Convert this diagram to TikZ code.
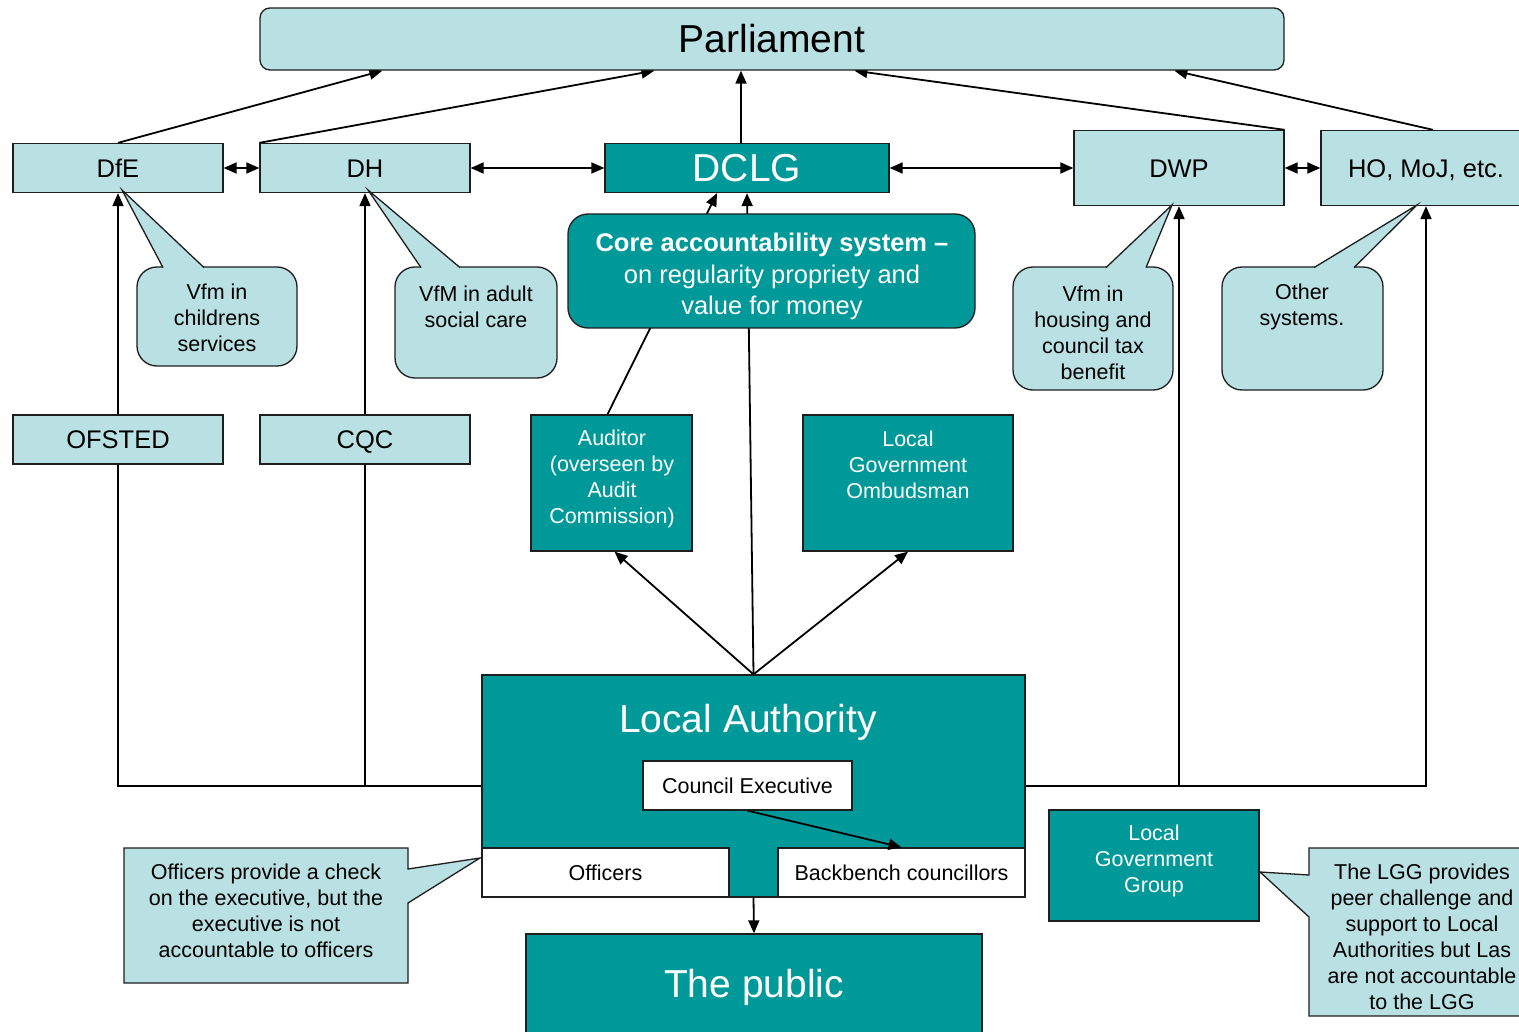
\documentclass[tikz,border=0pt]{standalone}
\usepackage{fontspec}
\setmainfont{Liberation Sans}
\usetikzlibrary{arrows.meta,calc,backgrounds}
\definecolor{lblue}{RGB}{185,224,227}
\definecolor{tealx}{RGB}{0,153,153}
\definecolor{edgec}{RGB}{30,30,30}
\tikzset{
 box/.style={draw=edgec, line width=1.3pt, inner sep=0pt, align=center},
 lbox/.style={box, fill=lblue, text=black},
 tbox/.style={box, fill=tealx, text=white},
 wbox/.style={box, fill=white, text=black},
 big/.style={font=\fontsize{39}{47}\selectfont, text height=27.9pt, text depth=0pt},
 mid/.style={font=\fontsize{25.5}{31.5}\selectfont, text height=18.3pt, text depth=0pt},
 sml/.style={font=\fontsize{21.5}{26}\selectfont, text height=15.4pt, text depth=0pt},
 midm/.style={font=\fontsize{25.5}{31.5}\selectfont},
 smlm/.style={font=\fontsize{21.5}{26}\selectfont},
 txt/.style={inner sep=0pt, align=center},
 conn/.style={draw=black, line width=1.8pt},
 arr/.style={conn, -{Triangle[length=13pt,width=11pt]}},
 darr/.style={conn, {Triangle[length=13pt,width=11pt]}-{Triangle[length=13pt,width=11pt]}},
 callout/.style={draw=edgec, line width=1.3pt, fill=lblue},
 cfill/.style={fill=lblue},
 cline/.style={draw=edgec, line width=1.3pt},
}
\begin{document}
\begin{tikzpicture}[x=1pt,y=-1pt]
\useasboundingbox (0,0) rectangle (1519,1032);
\clip (0,0) rectangle (1519,1032);

% top row
\node[lbox, big, minimum width=1024pt, minimum height=62pt, rounded corners=10pt] (parl) at (772,39) {Parliament};
\node[lbox, mid, minimum width=210pt, minimum height=49pt] (dfe) at (118,168) {DfE};
\node[lbox, mid, minimum width=210pt, minimum height=49pt] (dh) at (365,168) {DH};
\node[tbox, big, minimum width=284pt, minimum height=49pt] (dclg) at (747,168) {DCLG};
\node[lbox, mid, minimum width=210pt, minimum height=75pt] (dwp) at (1179,168) {DWP};
\node[lbox, mid, minimum width=210pt, minimum height=75pt] (ho) at (1426,168) {HO, MoJ, etc.};

% core box
\node[tbox, minimum width=407pt, minimum height=114pt, rounded corners=20pt] (core) at (771.5,271) {};
\node[txt, midm, text=white] (coret) at (772,276.5)
 {\textbf{Core accountability system –}\\on regularity propriety and\\value for money};

% callouts with pointers
\draw[callout, rounded corners=20pt] (137,267) rectangle (297,366);
\fill[cfill] (163,267) -- (122,190) -- (204,267) -- (204,270) -- (163,270) -- cycle;
\draw[cline] (163,267.6) -- (122,190) -- (204,267.6);
\node[txt, smlm] (c1) at (217,318) {Vfm in\\childrens\\services};

\draw[callout, rounded corners=20pt] (395,267) rectangle (557,378);
\fill[cfill] (421,267) -- (368,190) -- (460,267) -- (460,270) -- (421,270) -- cycle;
\draw[cline] (421,267.6) -- (368,190) -- (460,267.6);
\node[txt, smlm] (c2) at (476,307) {VfM in adult\\social care};

\draw[callout, rounded corners=20pt] (1013,267) rectangle (1173,390);
\fill[cfill] (1106,267) -- (1172,205) -- (1146,267) -- (1146,270) -- (1106,270) -- cycle;
\draw[cline] (1106,267.6) -- (1172,205) -- (1146,267.6);
\node[txt, smlm] (c3) at (1093,333) {Vfm in\\housing and\\council tax\\benefit};

\draw[callout, rounded corners=20pt] (1222,267) rectangle (1383,390);
\fill[cfill] (1314,267) -- (1417,205) -- (1354,267) -- (1354,270) -- (1314,270) -- cycle;
\draw[cline] (1314,267.6) -- (1417,205) -- (1354,267.6);
\node[txt, smlm] (c4) at (1302,307) {Other\\systems.};

% regulators
\node[lbox, mid, minimum width=210pt, minimum height=49pt] (ofsted) at (118,439.5) {OFSTED};
\node[lbox, mid, minimum width=210pt, minimum height=49pt] (cqc) at (365,439.5) {CQC};
\node[tbox, minimum width=161pt, minimum height=136pt] (aud) at (611.5,483) {};
\node[txt, smlm, text=white] (audt) at (612,479) {Auditor\\(overseen by\\Audit\\Commission)};
\node[tbox, minimum width=210pt, minimum height=136pt] (lgo) at (908,483) {};
\node[txt, smlm, text=white] (lgot) at (908,465) {Local\\Government\\Ombudsman};

% local authority
\node[tbox, minimum width=543pt, minimum height=222pt] (la) at (753.5,786) {};
\node[txt, big, text=white] (lat) at (748,719) {Local Authority};
\node[wbox, sml, minimum width=209pt, minimum height=49pt] (ce) at (747.5,785.5) {Council Executive};
\node[wbox, sml, minimum width=247pt, minimum height=49pt] (off) at (605.5,872.5) {Officers};
\node[wbox, sml, minimum width=247pt, minimum height=49pt] (bb) at (901.5,872.5) {Backbench councillors};
\node[tbox, minimum width=456pt, minimum height=108pt] (pub) at (754,988) {};
\node[txt, big, text=white] (pubt) at (754,984) {The public};
\node[tbox, minimum width=210pt, minimum height=111pt] (lgg) at (1154,865.5) {};
\node[txt, smlm, text=white] (lggt) at (1154,861) {Local\\Government\\Group};

% bottom callouts
\draw[callout] (124,848) -- (408,848) -- (408,869) -- (480,858) -- (408,903) -- (408,983) -- (124,983) -- cycle;
\node[txt, smlm] (c5) at (266,911) {Officers provide a check\\on the executive, but the\\executive is not\\accountable to officers};
\draw[callout] (1309,848) -- (1535,848) -- (1535,1016) -- (1309,1016) -- (1309,917) -- (1260,872) -- (1309,875) -- cycle;
\node[txt, smlm] (c6) at (1422,937) {The LGG provides\\peer challenge and\\support to Local\\Authorities but Las\\are not accountable\\to the LGG};

% connectors
\begin{scope}[on background layer]
\fill[white] (0,0) rectangle (1519,1032);
\draw[arr] (dfe.north) -- ($(parl.south west)+(123,0)$);
\draw[arr] (dh.north west) -- ($(parl.south west)+(395,0)$);
\draw[arr] ([xshift=-6pt]dclg.north) -- ([xshift=-6pt]dclg.north |- parl.south);
\draw[arr] (dwp.north east) -- ($(parl.south west)+(595,0)$);
\draw[arr] ([xshift=7pt]ho.north) -- ($(parl.south west)+(915,0)$);
\draw[darr] (dfe.east) -- (dh.west);
\draw[darr] (dh.east) -- (dclg.west);
\draw[darr] (dclg.east) -- (dwp.west);
\draw[darr] (dwp.east) -- (ho.west);
\draw[arr] (la.west) -| (dfe.south);
\draw[arr] (la.west) -| (dh.south);
\draw[arr] (la.east) -| (dwp.south);
\draw[arr] (la.east) -| (ho.south);
\draw[arr] ([xshift=-4pt]aud.north) -- ([xshift=-30pt]dclg.south);
\draw[arr] (la.north) -- (dclg.south);
\draw[arr] (la.north) -- ([xshift=3pt]aud.south);
\draw[arr] (la.north) -- (lgo.south);
\draw[arr] (la.south) -- (pub.north);
\end{scope}
\draw[arr] (ce.south) -- (bb.north);
\end{tikzpicture}
\end{document}
